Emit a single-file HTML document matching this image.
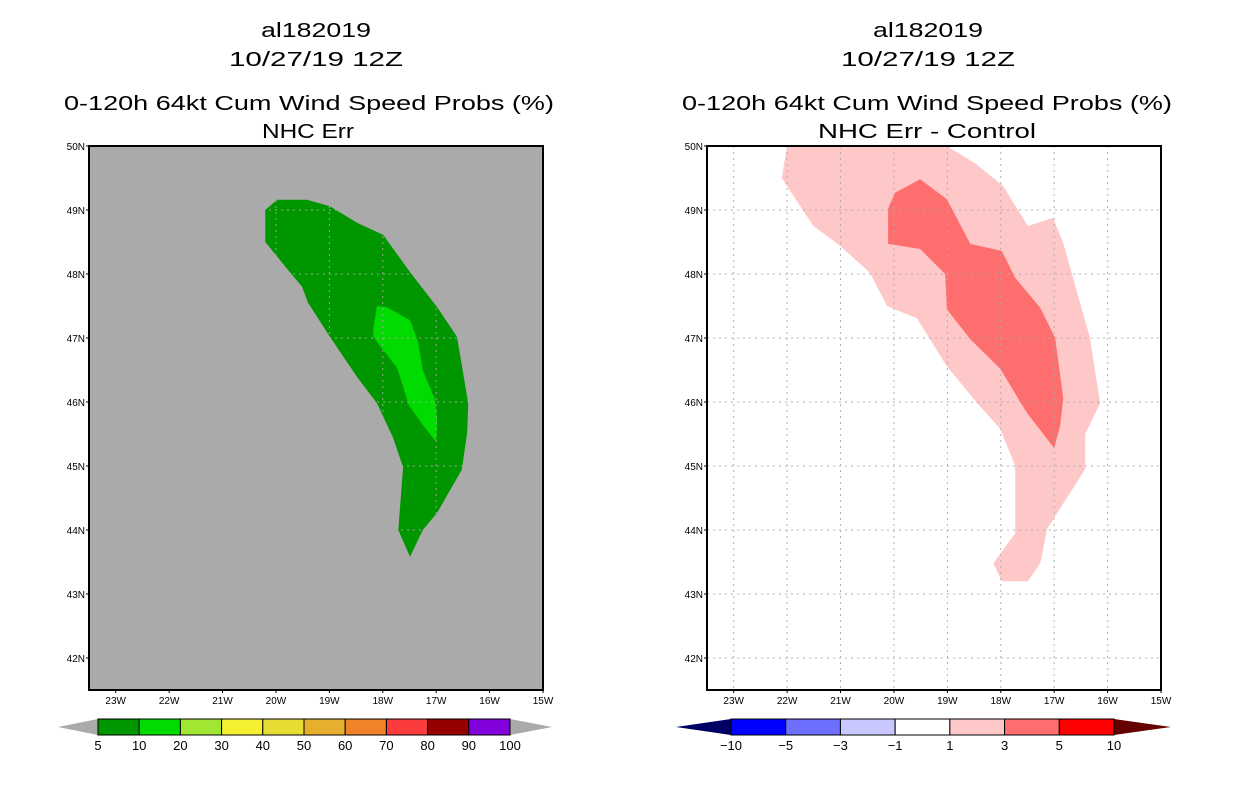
<!DOCTYPE html>
<html><head><meta charset="utf-8"><style>
body{margin:0;background:#fff;}
svg{display:block;font-family:"Liberation Sans",sans-serif;}
</style></head><body>
<svg id="chart" width="1236" height="800" viewBox="0 0 1236 800" xmlns="http://www.w3.org/2000/svg">
<g font-size="20" text-anchor="middle" fill="#000">
<text x="316" y="37" textLength="110" lengthAdjust="spacingAndGlyphs">al182019</text>
<text x="316" y="66" textLength="174" lengthAdjust="spacingAndGlyphs">10/27/19 12Z</text>
<text x="309" y="110" textLength="490" lengthAdjust="spacingAndGlyphs">0-120h 64kt Cum Wind Speed Probs (%)</text>
<text x="308" y="138" textLength="92" lengthAdjust="spacingAndGlyphs">NHC Err</text>
</g>
<g font-size="20" text-anchor="middle" fill="#000">
<text x="928" y="37" textLength="110" lengthAdjust="spacingAndGlyphs">al182019</text>
<text x="928" y="66" textLength="174" lengthAdjust="spacingAndGlyphs">10/27/19 12Z</text>
<text x="927" y="110" textLength="490" lengthAdjust="spacingAndGlyphs">0-120h 64kt Cum Wind Speed Probs (%)</text>
<text x="927" y="138" textLength="218" lengthAdjust="spacingAndGlyphs">NHC Err - Control</text>
</g>
<g id="left"></g>
<g id="right"></g>
<g id="cbars"></g>
</svg>
<script>
const lonTicks=[23,22,21,20,19,18,17,16,15];
const latTicks=[50,49,48,47,46,45,44,43,42];
const leftOuter=[[20.2,49.0],[19.98,49.16],[19.42,49.16],[18.99,49.06],[18.48,48.8],[17.99,48.61],[17.49,48.03],[16.98,47.48],[16.61,47.02],[16.4,45.98],[16.42,45.52],[16.52,44.94],[16.98,44.27],[17.25,44.0],[17.49,43.58],[17.71,44.0],[17.62,44.98],[17.81,45.45],[18.11,45.98],[18.48,46.39],[18.99,47.02],[19.4,47.55],[19.51,47.8],[19.74,48.03],[20.2,48.5]];
const leftInner=[[18.11,47.5],[17.92,47.48],[17.49,47.28],[17.34,46.94],[17.25,46.5],[17.02,46.03],[16.98,45.72],[17.0,45.38],[17.25,45.64],[17.51,45.95],[17.73,46.53],[18.18,47.02],[18.18,47.13]];
const rightLight=[[22.0,50.0],[22.1,49.5],[21.51,48.75],[21.01,48.44],[20.45,48.02],[20.13,47.5],[19.57,47.31],[19.01,46.56],[18.44,45.98],[18.01,45.58],[17.73,45.0],[17.73,43.95],[18.14,43.48],[17.98,43.2],[17.49,43.2],[17.26,43.48],[17.13,44.02],[16.42,44.95],[16.42,45.5],[16.14,45.98],[16.33,47.0],[16.83,48.48],[17.02,48.88],[17.49,48.75],[17.96,49.38],[18.48,49.73],[19.01,50.0]];
const rightDark=[[19.51,49.48],[19.01,49.17],[18.57,48.47],[17.98,48.36],[17.73,47.94],[17.26,47.47],[16.98,47.0],[16.83,46.05],[16.89,45.63],[17.0,45.28],[17.51,45.83],[18.01,46.52],[18.57,46.98],[19.01,47.45],[19.04,48.0],[19.51,48.39],[20.11,48.47],[20.11,49.02],[19.98,49.27]];
const leftLevels=["5","10","20","30","40","50","60","70","80","90","100"];
const leftColors=["#009600","#00dc00","#a0e632","#f5f032","#e6dc32","#e6af2d","#f08228","#fa3c3c","#960000","#8200dc"];
const rightLevels=["-10","-5","-3","-1","1","3","5","10"];
const rightColors=["#0000ff","#6e6eff","#c8c8ff","#ffffff","#ffc8c8","#ff6e6e","#ff0000"];

const NS="http://www.w3.org/2000/svg";
function mk(p,t,a){const e=document.createElementNS(NS,t);for(const k in a)e.setAttribute(k,a[k]);p.appendChild(e);return e;}
const W0=23.5,W1=15,N0=50,N1=41.5,PW=454,PH=544,PY=146;
function panel(gid,x0,bg,polys,names,cols){
  const g=document.getElementById(gid);
  const xs=w=>x0+(W0-w)/(W0-W1)*PW, ys=n=>PY+(N0-n)/(N0-N1)*PH;
  const r=mk(g,'rect',{x:x0,y:PY,width:PW,height:PH,fill:bg});
  
  
  polys.forEach((p,i)=>{
    const pl=mk(g,'polygon',{points:p.map(q=>xs(q[0]).toFixed(1)+','+ys(q[1]).toFixed(1)).join(' '),fill:cols[i]});
    
    
  });
  lonTicks.forEach(w=>{
    const x=xs(w);
    if(w>15){const l=mk(g,'line',{x1:x,y1:PY,x2:x,y2:PY+PH,stroke:'#aaaaaa','stroke-width':1,'stroke-dasharray':'2,4',opacity:.9});
    
    }
    mk(g,'line',{x1:x,y1:PY+PH,x2:x,y2:PY+PH+3,stroke:'#000'});
    const t=mk(g,'text',{x:x,y:PY+PH+14,'font-size':10,'text-anchor':'middle'});t.textContent=w+'W';
    
    
  });
  latTicks.forEach(n=>{
    const y=ys(n);
    if(n<50){const l=mk(g,'line',{x1:x0,y1:y,x2:x0+PW,y2:y,stroke:'#aaaaaa','stroke-width':1,'stroke-dasharray':'2,4',opacity:.9});
    
    }
    mk(g,'line',{x1:x0-3,y1:y,x2:x0,y2:y,stroke:'#000'});
    const t=mk(g,'text',{x:x0-4,y:y+4,'font-size':10,'text-anchor':'end'});t.textContent=n+'N';
    
    
  });
  const b=mk(g,'rect',{x:x0,y:PY,width:PW,height:PH,fill:'none',stroke:'#000','stroke-width':2});
  
  
}
panel('left',89,'#aaaaaa',[leftOuter,leftInner],['prob-5-10-region','prob-10-20-region'],['#009600','#00dc00']);
panel('right',707,'#ffffff',[rightLight,rightDark],['diff-1-3-region','diff-3-5-region'],['#ffc8c8','#ff6e6e']);

function cbar(x0,x1,tipL,tipR,cols,levels,lc,rc,nm){
  const g=mk(document.getElementById('cbars'),'g',{});
  
  
  const y0=719,y1=735,ym=727,n=cols.length,w=(x1-x0)/n;
  mk(g,'polygon',{points:`${tipL},${ym} ${x0},${y0} ${x0},${y1}`,fill:lc});
  mk(g,'polygon',{points:`${tipR},${ym} ${x1},${y0} ${x1},${y1}`,fill:rc});
  cols.forEach((c,i)=>{
    const r=mk(g,'rect',{x:x0+i*w,y:y0,width:w,height:y1-y0,fill:c,stroke:'#000','stroke-width':1});
    
    
  });
  levels.forEach((l,i)=>{
    const t=mk(g,'text',{x:x0+i*w,y:750,'font-size':13,'text-anchor':'middle'});t.textContent=l.replace('-','\u2212');
    
    
  });
}
cbar(98,510,58,552,leftColors,leftLevels,'#aaaaaa','#aaaaaa','left-colorbar');
cbar(731,1114,676,1171,rightColors,rightLevels,'#000064','#640000','right-colorbar');
</script>
</body></html>
